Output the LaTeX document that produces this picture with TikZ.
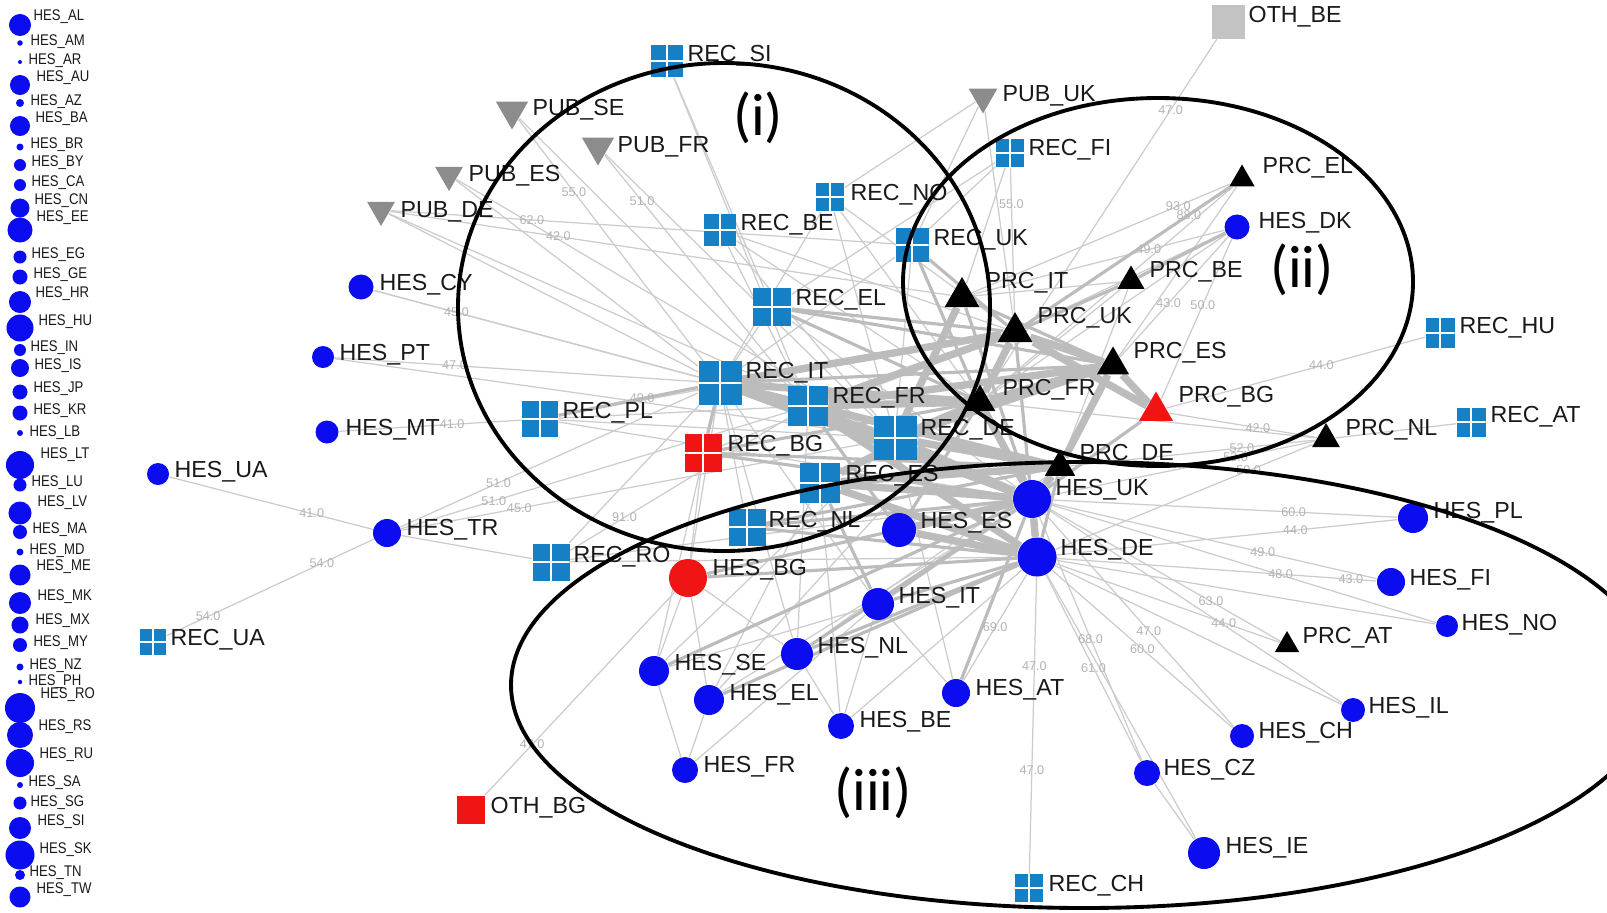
\documentclass[tikz,border=0pt]{standalone}
\usepackage{fontspec}
\setmainfont{Liberation Sans}
\newfontfamily\narrowfont[FakeStretch=0.85]{Liberation Sans}
\newfontfamily\romfont{Carlito}
\usetikzlibrary{shapes.geometric}
\pgfdeclarelayer{bg}
\pgfsetlayers{bg,main}
\definecolor{hesblue}{RGB}{12,12,240}
\definecolor{hesred}{RGB}{240,20,20}
\definecolor{recblue}{RGB}{22,128,198}
\definecolor{pubgray}{RGB}{140,140,140}
\definecolor{othgray}{RGB}{195,195,195}
\definecolor{edgegray}{RGB}{204,204,204}
\definecolor{edgegray2}{RGB}{188,188,188}
\definecolor{edgelab}{RGB}{180,180,180}
\definecolor{labblack}{RGB}{25,25,25}
\tikzset{
 hes/.style={circle, fill=hesblue, draw=none, inner sep=0pt, minimum size=#1mm},
 rec/.style={rectangle, fill=recblue, inner sep=0pt, minimum size=#1mm,
   path picture={\draw[white, line width=0.5pt] (path picture bounding box.north) -- (path picture bounding box.south) (path picture bounding box.west) -- (path picture bounding box.east);}},
 prc/.style={regular polygon, regular polygon sides=3, fill=black, inner sep=0pt, minimum size=#1mm},
 pub/.style={regular polygon, regular polygon sides=3, shape border rotate=180, fill=pubgray, inner sep=0pt, minimum size=#1mm},
 oth/.style={rectangle, fill=othgray, inner sep=0pt, minimum size=#1mm},
 lab/.style={anchor=west, inner sep=0pt, font=\fontsize{6.6}{7}\selectfont, text=labblack},
 slab/.style={anchor=west, inner sep=0pt, font=\narrowfont\fontsize{4.4}{5}\selectfont, text=labblack},
 e1/.style={draw=edgegray, line width=0.35pt},
 e2/.style={draw=edgegray2, line width=0.9pt},
 e3/.style={draw=edgegray2, line width=2.1pt},
 elab/.style={font=\fontsize{3.6}{4}\selectfont, text=edgelab, inner sep=0.5pt},
 ring/.style={draw=black, line width=1.1pt},
 roman/.style={font=\romfont\fontsize{17}{19}\selectfont, inner sep=0pt, text=black},
}
\newcommand\ND[6]{\node[#1] (#2) at (#3,#4) {};\node[lab] (l#2) at (#5,#6) {\detokenize{#2}};}
\newcommand\LN[5]{\node[hes=#3] (HES_#1) at (20,#2) {};\node[slab] (lHES_#1) at (#4,#5) {HES\_#1};}
\begin{document}
\begin{tikzpicture}[x=0.01cm,y=-0.01cm]
\begin{pgfonlayer}{bg}
\fill[white] (0,0) rectangle (1607,912);
\end{pgfonlayer}
\path[use as bounding box] (0,0) rectangle (1607,912);
% left column
\LN{AL}{25}{2.2}{33}{17}
\LN{AM}{43}{0.55}{30}{42}
\LN{AR}{62}{0.4}{28}{61}
\LN{AU}{85}{2.0}{36}{78}
\LN{AZ}{103}{0.8}{30}{102}
\LN{BA}{126}{2.0}{35}{119}
\LN{BR}{147}{0.7}{30}{145}
\LN{BY}{165}{1.2}{31}{163}
\LN{CA}{185}{1.2}{31}{183}
\LN{CN}{208}{1.9}{34}{201}
\LN{EE}{230}{2.5}{36}{218}
\LN{EG}{257}{1.3}{31}{255}
\LN{GE}{277}{1.5}{33}{275}
\LN{HR}{302}{2.2}{35}{294}
\LN{HU}{328}{2.7}{38}{322}
\LN{IN}{350}{1.2}{30}{348}
\LN{IS}{368}{1.8}{34}{366}
\LN{JP}{392}{1.5}{33}{389}
\LN{KR}{413}{1.5}{33}{411}
\LN{LB}{433}{0.6}{29}{433}
\LN{LT}{465}{2.8}{40}{455}
\LN{LU}{485}{1.3}{31}{483}
\LN{LV}{513}{2.3}{37}{503}
\LN{MA}{532}{1.4}{32}{530}
\LN{MD}{552}{0.7}{29}{551}
\LN{ME}{575}{2.1}{36}{567}
\LN{MK}{603}{2.2}{37}{597}
\LN{MX}{625}{1.7}{35}{621}
\LN{MY}{645}{1.4}{33}{643}
\LN{NZ}{667}{0.7}{29}{666}
\LN{PH}{682}{0.45}{28}{682}
\LN{RO}{708}{3.0}{40}{695}
\LN{RS}{735}{2.6}{38}{727}
\LN{RU}{763}{2.8}{39}{755}
\LN{SA}{785}{0.6}{28}{783}
\LN{SG}{803}{1.3}{30}{803}
\LN{SI}{828}{2.2}{37}{822}
\LN{SK}{855}{2.9}{39}{850}
\LN{TN}{875}{1.0}{29}{873}
\LN{TW}{897}{2.1}{36}{890}
% main nodes
\ND{rec=3.2}{REC_SI}{667}{61}{687}{56}
\ND{pub=3.7}{PUB_SE}{512}{111}{532}{110}
\ND{pub=3.7}{PUB_FR}{598}{147}{617}{147}
\ND{pub=3.2}{PUB_ES}{449}{175}{468}{176}
\ND{pub=3.2}{PUB_DE}{381}{210}{400}{212}
\ND{rec=3.2}{REC_BE}{720}{230}{740}{225}
\ND{rec=2.8}{REC_NO}{830}{197}{850}{195}
\ND{rec=3.3}{REC_UK}{912}{245}{933}{240}
\ND{rec=2.8}{REC_FI}{1010}{153}{1028}{150}
\ND{pub=3.3}{PUB_UK}{983}{97}{1002}{96}
\ND{oth=3.3}{OTH_BE}{1228}{22}{1248}{17}
\ND{prc=2.9}{PRC_EL}{1242}{179}{1262}{168}
\ND{hes=2.5}{HES_DK}{1237}{227}{1258}{223}
\ND{prc=4.0}{PRC_IT}{962}{297}{985}{283}
\ND{prc=3.1}{PRC_BE}{1131}{281}{1149}{272}
\ND{prc=4.0}{PRC_UK}{1015}{332}{1037}{318}
\ND{prc=3.7}{PRC_ES}{1113}{365}{1133}{353}
\ND{prc=3.5}{PRC_FR}{980}{402}{1002}{390}
\ND{prc=3.9,fill=hesred}{PRC_BG}{1156}{411}{1178}{397}
\ND{prc=3.2}{PRC_NL}{1326}{439}{1345}{430}
\ND{prc=3.5}{PRC_DE}{1060}{467}{1079}{455}
\ND{rec=2.9}{REC_HU}{1440}{333}{1459}{328}
\ND{rec=2.9}{REC_AT}{1471}{422}{1490}{417}
\ND{rec=3.8}{REC_EL}{772}{307}{795}{300}
\ND{rec=4.3}{REC_IT}{720}{383}{745}{373}
\ND{rec=4.0}{REC_FR}{808}{406}{832}{398}
\ND{rec=4.3}{REC_DE}{895}{438}{920}{430}
\ND{rec=3.7,fill=hesred}{REC_BG}{703}{453}{727}{446}
\ND{rec=4.0}{REC_ES}{820}{483}{845}{476}
\ND{rec=3.7}{REC_NL}{747}{527}{768}{522}
\ND{rec=3.6}{REC_PL}{540}{419}{562}{413}
\ND{rec=3.7}{REC_RO}{551}{562}{573}{557}
\ND{rec=2.6}{REC_UA}{153}{642}{170}{640}
\ND{hes=2.5}{HES_CY}{361}{287}{379}{285}
\ND{hes=2.2}{HES_PT}{323}{357}{339}{355}
\ND{hes=2.3}{HES_MT}{327}{432}{345}{430}
\ND{hes=2.2}{HES_UA}{158}{474}{174}{472}
\ND{hes=2.8}{HES_TR}{387}{533}{406}{530}
\ND{hes=3.4}{HES_ES}{899}{530}{920}{523}
\ND{hes=3.8}{HES_UK}{1032}{499}{1055}{490}
\ND{hes=3.9}{HES_DE}{1037}{557}{1060}{550}
\ND{hes=3.8,fill=hesred}{HES_BG}{688}{578}{712}{570}
\ND{hes=3.2}{HES_IT}{878}{604}{898}{598}
\ND{hes=3.2}{HES_NL}{797}{654}{817}{648}
\ND{hes=3.0}{HES_SE}{654}{671}{674}{665}
\ND{hes=3.0}{HES_EL}{709}{700}{729}{695}
\ND{hes=2.8}{HES_AT}{956}{693}{975}{690}
\ND{hes=2.6}{HES_BE}{841}{726}{859}{722}
\ND{hes=2.6}{HES_FR}{685}{770}{703}{767}
\ND{hes=3.0}{HES_PL}{1413}{518}{1433}{513}
\ND{hes=2.8}{HES_FI}{1391}{582}{1409}{580}
\ND{hes=2.2}{HES_NO}{1447}{626}{1461}{625}
\ND{prc=2.8}{PRC_AT}{1287}{645}{1302}{638}
\ND{hes=2.4}{HES_IL}{1353}{710}{1368}{708}
\ND{hes=2.4}{HES_CH}{1242}{736}{1258}{733}
\ND{hes=2.6}{HES_CZ}{1147}{773}{1163}{770}
\ND{hes=3.2}{HES_IE}{1204}{853}{1225}{848}
\ND{rec=2.8}{REC_CH}{1029}{888}{1048}{886}
\ND{oth=2.8,fill=hesred}{OTH_BG}{471}{810}{490}{808}
% edges
\begin{pgfonlayer}{bg}
\foreach \a/\b in {PUB_SE/REC_IT, PUB_SE/REC_FR, PUB_FR/REC_FR, PUB_FR/REC_DE, PUB_ES/REC_IT, PUB_ES/REC_DE, PUB_DE/REC_IT, PUB_DE/REC_UK, PUB_DE/PRC_IT, PUB_DE/REC_DE, REC_SI/REC_FR, REC_SI/REC_EL, HES_CY/REC_FR, HES_CY/REC_IT, HES_PT/REC_IT, HES_PT/REC_DE, HES_MT/REC_PL, HES_UA/HES_TR, REC_UA/HES_TR, HES_TR/REC_IT, HES_TR/REC_FR, HES_TR/REC_DE, HES_TR/REC_RO, REC_PL/REC_FR, REC_PL/REC_DE, REC_PL/HES_UK, REC_RO/REC_IT, REC_RO/REC_FR, REC_RO/HES_UK, REC_RO/HES_DE, OTH_BG/HES_BG, OTH_BE/PRC_FR, PUB_UK/REC_UK, PUB_UK/PRC_UK, PUB_UK/REC_NO, REC_FI/PRC_IT, REC_FI/PRC_UK, REC_FI/REC_UK, REC_FI/REC_EL, PRC_EL/PRC_IT, PRC_EL/PRC_FR, PRC_EL/PRC_ES, HES_DK/PRC_IT, HES_DK/PRC_UK, HES_DK/PRC_FR, HES_DK/PRC_ES, HES_DK/PRC_BG, PRC_BE/PRC_IT, PRC_BE/PRC_FR, PRC_BE/PRC_DE, REC_HU/PRC_BG, REC_AT/PRC_NL, PRC_NL/PRC_BG, PRC_NL/PRC_DE, PRC_NL/HES_UK, PRC_NL/HES_DE, PRC_NL/PRC_FR, HES_PL/HES_UK, HES_PL/HES_DE, HES_FI/HES_DE, HES_FI/HES_UK, HES_NO/HES_DE, HES_NO/HES_UK, PRC_AT/HES_UK, PRC_AT/HES_DE, HES_IL/HES_DE, HES_IL/HES_UK, HES_CH/HES_DE, HES_CH/HES_UK, HES_CZ/HES_DE, HES_CZ/HES_UK, HES_IE/HES_CZ, HES_IE/HES_DE, REC_CH/HES_DE, HES_AT/HES_DE, HES_AT/HES_IT, HES_AT/REC_DE, HES_BE/HES_NL, HES_BE/HES_IT, HES_BE/HES_DE, HES_BE/REC_ES, HES_FR/HES_SE, HES_FR/HES_EL, HES_FR/HES_IT, HES_SE/HES_BG, HES_SE/REC_IT, HES_SE/HES_DE, HES_EL/HES_UK, HES_EL/REC_ES, HES_EL/HES_BG, HES_NL/REC_IT, HES_NL/REC_FR, HES_NL/HES_BG, HES_IT/REC_IT, HES_BG/REC_BG, HES_BG/REC_IT, REC_NL/REC_IT, REC_BE/REC_FR, REC_BE/REC_DE, REC_BE/PRC_UK, REC_NO/PRC_FR, REC_NO/REC_IT, REC_NO/REC_DE, REC_UK/REC_IT, REC_UK/REC_DE, REC_EL/REC_IT, HES_SE/REC_DE, HES_EL/PRC_FR, HES_NL/PRC_DE, REC_BG/PRC_UK, REC_PL/PRC_UK, REC_BE/PRC_FR, REC_EL/HES_UK, REC_NO/PRC_UK}
  \draw[e1] (\a) -- (\b);
\foreach \a/\b in {REC_PL/REC_IT, PRC_EL/PRC_UK, PRC_BE/PRC_UK, HES_DK/PRC_BE, HES_AT/HES_UK, HES_NL/HES_DE, HES_NL/HES_UK, HES_IT/HES_DE, HES_IT/HES_UK, HES_IT/REC_ES, HES_BG/HES_DE, HES_BG/HES_UK, HES_ES/REC_FR, REC_NL/HES_UK, REC_NL/HES_DE, REC_BG/REC_IT, REC_BG/PRC_FR, REC_BG/HES_UK, REC_EL/PRC_FR, REC_EL/PRC_UK, REC_UK/PRC_FR, HES_SE/HES_UK, HES_EL/HES_DE, PRC_IT/HES_UK, PRC_UK/HES_DE, PRC_IT/PRC_ES, REC_EL/PRC_ES, REC_IT/PRC_ES, REC_BG/PRC_DE, REC_NL/PRC_DE, REC_UK/PRC_UK, HES_ES/PRC_FR, PRC_DE/HES_DE, PRC_BG/HES_UK}
  \draw[e2] (\a) -- (\b);
\foreach \a/\b in {REC_IT/PRC_FR, REC_IT/HES_UK, REC_IT/PRC_UK, REC_IT/PRC_DE, REC_IT/REC_DE, REC_FR/PRC_FR, REC_FR/HES_UK, REC_FR/PRC_UK, REC_FR/HES_DE, REC_FR/PRC_ES, REC_DE/PRC_FR, REC_DE/HES_UK, REC_DE/PRC_DE, REC_DE/PRC_ES, REC_DE/PRC_IT, REC_ES/HES_UK, REC_ES/PRC_DE, REC_ES/HES_DE, REC_ES/PRC_FR, PRC_FR/HES_UK, PRC_FR/PRC_ES, PRC_FR/PRC_UK, PRC_UK/PRC_ES, PRC_UK/PRC_BG, PRC_ES/PRC_BG, PRC_DE/HES_UK, PRC_DE/PRC_ES, HES_UK/HES_DE, HES_ES/HES_DE, HES_ES/HES_UK}
  \draw[e3] (\a) -- (\b);
\foreach \a/\b/\p/\ww in {PUB_SE/REC_IT/0.3/55.0, PUB_FR/REC_FR/0.2/51.0, PUB_DE/REC_UK/0.28/62.0, PUB_DE/PRC_IT/0.3/42.0, HES_PT/REC_IT/0.33/47.0, HES_MT/REC_PL/0.62/41.0, HES_UA/HES_TR/0.7/41.0, REC_UA/HES_TR/0.2/54.0, REC_UA/HES_TR/0.75/54.0, HES_TR/REC_IT/0.33/51.0, HES_TR/REC_FR/0.24/51.0, HES_TR/REC_DE/0.25/45.0, OTH_BG/HES_BG/0.25/47.0, OTH_BE/PRC_FR/0.2/47.0, REC_HU/PRC_BG/0.4/44.0, HES_PL/HES_UK/0.3/60.0, HES_PL/HES_DE/0.3/44.0, HES_FI/HES_DE/0.3/48.0, HES_FI/HES_UK/0.35/49.0, HES_FI/HES_DE/0.08/43.0, PRC_AT/HES_UK/0.3/63.0, PRC_AT/HES_DE/0.25/44.0, HES_CH/HES_DE/0.5/60.0, HES_CH/HES_UK/0.45/47.0, HES_CZ/HES_DE/0.5/61.0, HES_CZ/HES_UK/0.5/68.0, REC_CH/HES_DE/0.35/47.0, REC_CH/HES_DE/0.7/47.0, PRC_EL/PRC_IT/0.2/93.0, PRC_EL/PRC_UK/0.2/88.0, HES_DK/PRC_IT/0.3/49.0, PRC_NL/PRC_DE/0.3/52.0, PRC_NL/HES_UK/0.3/53.0, PRC_NL/HES_DE/0.25/59.0, PRC_NL/PRC_BG/0.4/42.0, HES_AT/HES_DE/0.5/69.0, HES_DK/PRC_ES/0.55/43.0, HES_DK/PRC_BG/0.41/50.0, REC_FI/PRC_UK/0.25/55.0, HES_CY/REC_FR/0.2/45.0, REC_PL/REC_IT/0.6/49.0, REC_RO/REC_FR/0.25/91.0}
  \path (\a) -- (\b) node[elab, pos=\p] {\ww};
\end{pgfonlayer}
% group rings
\draw[ring] (724,307) ellipse [x radius=266, y radius=244];
\draw[ring] (1158,282) ellipse [x radius=255, y radius=184];
\draw[ring] (1084,685) ellipse [x radius=573, y radius=223];
\node[roman] (r1) at (758,118) {(i)};
\node[roman] (r2) at (1302,270) {(ii)};
\node[roman] (r3) at (873,793) {(iii)};
\end{tikzpicture}
\end{document}
